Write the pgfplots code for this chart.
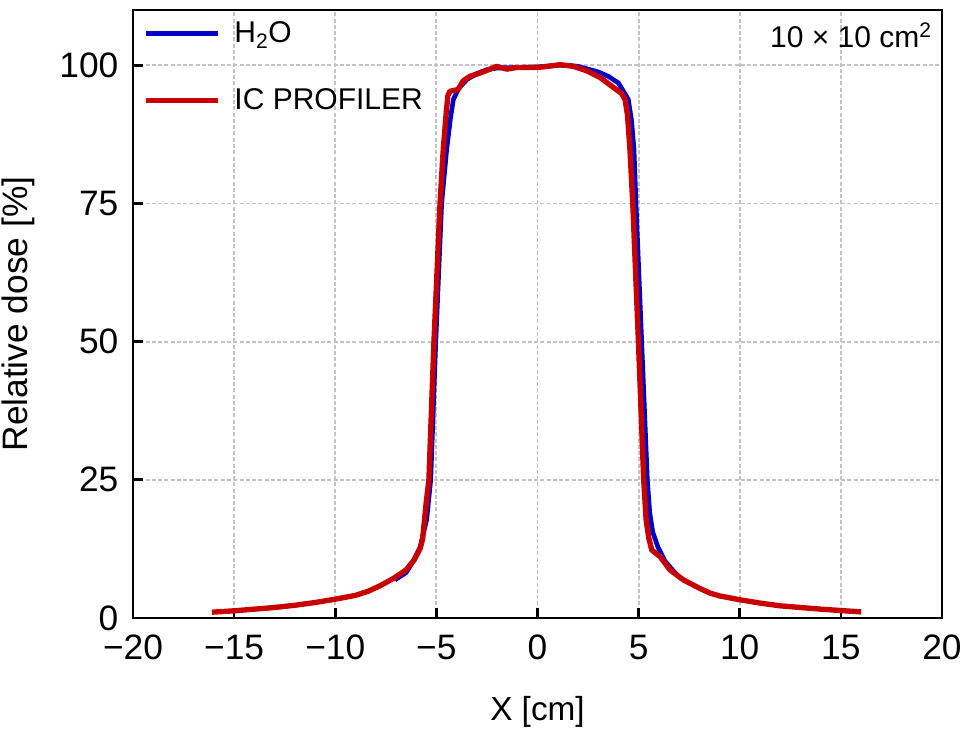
\documentclass[border=0pt]{standalone}
\usepackage{fontspec}
\setmainfont{Liberation Sans}
\usepackage{pgfplots}
\pgfplotsset{compat=1.18}
\definecolor{myblue}{RGB}{0,0,200}
\definecolor{myred}{RGB}{200,0,0}
\definecolor{gridgray}{RGB}{195,195,195}
\begin{document}
\begin{tikzpicture}
\begin{axis}[
  at={(0pt,0pt)}, anchor=south west,
  scale only axis, width=606.75pt, height=456pt,
  xmin=-20, xmax=20, ymin=0, ymax=110,
  xtick={-20,-15,-10,-5,0,5,10,15,20},
  xticklabels={−20,−15,−10,−5,0,5,10,15,20},
  ytick={0,25,50,75,100},
  yticklabels={0,25,50,75,100},
  tick align=inside, xtick pos=bottom, ytick pos=left,
  major tick length=7.5pt,
  every tick/.style={black, line width=2pt},
  axis line style={line width=1.8pt},
  grid=major,
  grid style={dash pattern=on 3pt off 1.7pt, color=gridgray, line width=1.4pt},
  tick label style={font=\fontsize{26.5}{31}\selectfont, inner sep=0pt},
  xticklabel style={yshift=-12.5pt},
  yticklabel style={xshift=-10.8pt},
  xlabel={X [cm]}, ylabel={Relative dose [\%]},
  xlabel style={at={(axis description cs:0.5,-0.1546)}, anchor=center, font=\fontsize{25}{30}\selectfont},
  ylabel style={at={(axis description cs:-0.1422,0.5)}, anchor=center, font=\fontsize{26.5}{31}\selectfont},
  legend style={draw=none, fill=none, inner sep=0pt, at={(axis description cs:0.013,0.985)}, anchor=north west, font=\fontsize{22.5}{27}\selectfont, row sep=29pt},
  legend cell align=left,
  legend image code/.code={\draw[#1] (0pt,0pt) -- (54pt,0pt); \path (62pt,0pt);},
]
\addplot[myblue, line width=3.5pt, line join=round] coordinates {
(-7.05,6.9) (-6.5,8.2) (-6.14,10.3) (-5.8,12.8) (-5.6,16) (-5.48,17.8) (-5.28,25) (-5.03,50) (-4.74,75) (-4.49,84.8) (-4.3,90.5) (-4.16,93.8) (-3.9,95.8) (-3.5,97.4) (-3,98.5) (-2.5,99.2) (-2,99.5) (-1,99.6) (0,99.7) (1,100) (1.5,100) (2,99.8) (2.5,99.3) (3,98.8) (3.5,98) (4,96.8) (4.3,95) (4.49,93.8) (4.65,90) (4.77,84.8) (4.87,75) (5.15,50) (5.43,25) (5.55,19) (5.7,15.5) (5.95,12.9) (6.3,10.3) (6.7,8.6) (6.9,7.8)
};
\addlegendentry{H\textsubscript{2}O}
\addplot[myred, line width=4pt, line join=round] coordinates {
(-16.1,1.05) (-15,1.3) (-14,1.6) (-13,1.9) (-12,2.3) (-11,2.8) (-10,3.4) (-9,4.1) (-8.4,4.8) (-7.8,5.8) (-7.1,7.2) (-6.5,8.7) (-6.1,10.5) (-5.8,12.6) (-5.68,14.3) (-5.58,18) (-5.5,21) (-5.37,25) (-5.12,50) (-4.82,75) (-4.66,84.8) (-4.5,92) (-4.43,94.5) (-4.33,95.3) (-3.93,95.6) (-3.67,97.2) (-3.34,98.0) (-2.68,98.8) (-2.02,99.8) (-1.52,99.3) (-1.03,99.6) (0,99.6) (0.5,99.8) (1.11,100.1) (1.77,99.8) (2.43,99.0) (3.09,97.8) (3.75,96.0) (4.16,94.9) (4.33,93.8) (4.45,91) (4.57,84.8) (4.71,75) (4.99,50) (5.25,25) (5.37,17.8) (5.5,14.5) (5.65,12.3) (6.06,11.1) (6.55,8.7) (7.21,6.9) (8,5.4) (8.53,4.5) (9,4.0) (10,3.3) (11,2.7) (12,2.2) (13,1.9) (14,1.6) (15,1.35) (16,1.1)
};
\addlegendentry{IC PROFILER}
\node[anchor=base east, inner sep=0pt, font=\fontsize{22.5}{27}\selectfont] at (axis description cs:0.9876,0.938) {10 × 10 cm\textsuperscript{2}};
\end{axis}
\pgfresetboundingbox
\path[use as bounding box] (-99.75pt,-84.75pt) rectangle (622.5pt,463.5pt);
\end{tikzpicture}
\end{document}
